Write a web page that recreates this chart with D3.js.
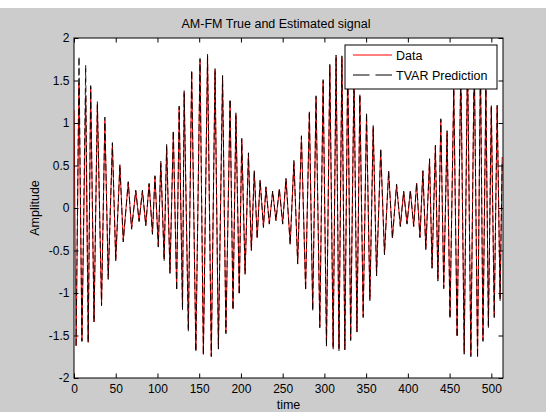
<!DOCTYPE html>
<html>
<head>
<meta charset="utf-8">
<script src="https://cdn.jsdelivr.net/npm/d3@7"></script>
<style>
  body { margin: 0; background: #fff; }
  text { font-family: "Liberation Sans", Arial, sans-serif; fill: #000; }
  .line { fill: none; }
</style>
</head>
<body>
<div id="chart"></div>
<script>
// sample index of each turning point (peak / trough)
var turnT = [0, 2.5, 6, 9.5, 14, 17, 20, 24, 28, 33,
  37, 41, 46, 50, 55, 59, 65, 69, 74, 78,
  82, 86, 90, 94, 97, 101, 104, 108, 111, 115,
  119, 123, 126, 130, 132, 137, 141, 146, 151, 155,
  160, 164.5, 169, 173, 178, 182, 187, 190.5, 194, 198,
  201, 205, 209, 212.5, 216, 219.5, 223, 227, 230, 234,
  238, 242, 246, 250, 254, 259, 263.5, 268, 272.5, 277.5,
  282, 286, 290, 294.5, 298.5, 302.5, 306.5, 310.5, 314, 317.5,
  321, 324.5, 328, 331.5, 335.5, 339, 342.5, 346.5, 350.5, 354.5,
  358.5, 362.5, 367.5, 372, 377, 381.5, 386.5, 391, 395, 399,
  403, 407, 410.5, 414.5, 418, 421.5, 426, 429, 433, 436,
  439.5, 443, 447, 450.5, 455, 459, 463.5, 467.5, 471.5, 475.5,
  479.5, 483.5, 487, 490, 493.5, 496.5, 500, 503.5, 507, 510.5,
  513];

// true signal
var dataV = [1.15, -1.62, 1.47, -1.56, 1.32, -1.58, 1.42, -1.34, 1.22, -1.14,
  1.03, -0.82, 0.75, -0.61, 0.50, -0.38, 0.30, -0.24, 0.20, -0.15,
  0.20, -0.20, 0.28, -0.30, 0.37, -0.45, 0.53, -0.60, 0.73, -0.76,
  0.89, -0.95, 1.18, -1.18, 1.36, -1.43, 1.60, -1.67, 1.74, -1.72,
  1.79, -1.74, 1.62, -1.64, 1.54, -1.46, 1.26, -1.18, 1.10, -1.00,
  0.80, -0.77, 0.63, -0.50, 0.43, -0.35, 0.32, -0.22, 0.24, -0.18,
  0.19, -0.14, 0.22, -0.18, 0.34, -0.42, 0.54, -0.64, 0.83, -0.95,
  1.12, -1.19, 1.30, -1.39, 1.49, -1.62, 1.67, -1.64, 1.78, -1.66,
  1.77, -1.66, 1.70, -1.54, 1.58, -1.45, 1.32, -1.27, 1.10, -1.07,
  0.95, -0.78, 0.68, -0.54, 0.43, -0.35, 0.27, -0.21, 0.19, -0.18,
  0.20, -0.21, 0.29, -0.34, 0.43, -0.48, 0.56, -0.70, 0.72, -0.84,
  1.03, -0.93, 0.89, -1.28, 1.39, -1.50, 1.67, -1.70, 1.79, -1.73,
  1.79, -1.75, 1.70, -1.55, 1.39, -1.39, 1.19, -1.27, 1.19, -1.07,
  0.60];

// TVAR prediction (starts a couple of samples late)
var predV = [null, -1.62, 1.78, -1.57, 1.68, -1.58, 1.44, -1.34, 1.25, -1.15,
  1.07, -0.84, 0.77, -0.62, 0.51, -0.40, 0.31, -0.25, 0.21, -0.16,
  0.21, -0.21, 0.29, -0.31, 0.38, -0.46, 0.55, -0.62, 0.75, -0.77,
  0.91, -0.97, 1.20, -1.20, 1.38, -1.45, 1.62, -1.69, 1.76, -1.73,
  1.81, -1.75, 1.64, -1.66, 1.56, -1.48, 1.28, -1.20, 1.12, -1.02,
  0.82, -0.78, 0.65, -0.50, 0.44, -0.36, 0.33, -0.23, 0.25, -0.19,
  0.20, -0.15, 0.23, -0.19, 0.35, -0.43, 0.56, -0.66, 0.85, -0.97,
  1.14, -1.21, 1.32, -1.41, 1.51, -1.63, 1.69, -1.66, 1.80, -1.68,
  1.79, -1.67, 1.72, -1.56, 1.60, -1.46, 1.34, -1.29, 1.12, -1.09,
  0.97, -0.80, 0.70, -0.55, 0.44, -0.36, 0.28, -0.22, 0.20, -0.19,
  0.21, -0.22, 0.30, -0.35, 0.44, -0.49, 0.58, -0.71, 0.74, -0.86,
  1.05, -0.95, 0.91, -1.30, 1.41, -1.52, 1.69, -1.72, 1.80, -1.75,
  1.81, -1.76, 1.72, -1.57, 1.41, -1.41, 1.21, -1.29, 1.21, -1.09,
  0.55];

var xTicks = [0, 50, 100, 150, 200, 250, 300, 350, 400, 450, 500];
var yTicks = [-2, -1.5, -1, -0.5, 0, 0.5, 1, 1.5, 2];
var seriesNames = ["Data", "TVAR Prediction"];
var seriesColors = ["#ff0000", "#000000"];
var seriesDash = ["none", "16.5,6"];

document.addEventListener('DOMContentLoaded', function() {
  drawChart();
});

function drawChart(){
    var W = 546, H = 412;
    var margin = {top: 38, right: 43, bottom: 34, left: 74},
    width = W - margin.left - margin.right,
    height = H - margin.top - margin.bottom;

    var x = d3.scaleLinear().domain([0, 514]).range([0, width]);
    var y = d3.scaleLinear().domain([-2, 2]).range([height, 0]);

    var rows = turnT.map(function(t, i) {
      return {t: t, data: dataV[i], pred: predV[i]};
    });

    var root = d3.select("#chart")
        .append("svg")
        .attr("width", W)
        .attr("height", H);

    // figure background (gray, white strip at top)
    root.append("rect").attr("width", W).attr("height", H).attr("fill", "#fff");
    root.append("rect").attr("y", 8).attr("width", W).attr("height", H - 8).attr("fill", "#cccccc");

    var svg = root.append("g")
        .attr("transform", "translate(" + margin.left + "," + margin.top + ")");

    svg.append("rect")
      .attr("width", width)
      .attr("height", height)
      .attr("fill", "#fff");

    svg.append("clipPath").attr("id", "clip")
      .append("rect").attr("width", width).attr("height", height);

    var dataLine = d3.line()
      .x(function(d) { return x(d.t); })
      .y(function(d) { return y(d.data); });

    var predLine = d3.line()
      .defined(function(d) { return d.pred != null; })
      .x(function(d) { return x(d.t); })
      .y(function(d) { return y(d.pred); });

    var plot = svg.append("g").attr("clip-path", "url(#clip)");

    plot.append("path")
      .datum(rows)
      .attr("class", "line")
      .style("stroke", seriesColors[0])
      .style("stroke-width", 1)
      .attr("d", dataLine);

    plot.append("path")
      .datum(rows)
      .attr("class", "line")
      .style("stroke", seriesColors[1])
      .style("stroke-width", 0.9)
      .style("stroke-dasharray", "7,3")
      .attr("d", predLine);

    // Add the X Axis (ticks point inward)
    svg.append("g")
      .attr("transform", "translate(0," + height + ")")
      .call(d3.axisBottom(x).tickValues(xTicks).tickSizeInner(-4.5).tickSizeOuter(0).tickPadding(6));

    svg.append("g")
      .call(d3.axisTop(x).tickValues(xTicks).tickSizeInner(-4.5).tickSizeOuter(0).tickFormat(""));

    // Add the Y Axis
    svg.append("g")
      .call(d3.axisLeft(y).tickValues(yTicks).tickSizeInner(-4.5).tickSizeOuter(0).tickPadding(4.5)
        .tickFormat(function(d) { return String(d); }));

    svg.append("g")
      .attr("transform", "translate(" + width + ",0)")
      .call(d3.axisRight(y).tickValues(yTicks).tickSizeInner(-4.5).tickSizeOuter(0).tickFormat(""));

    svg.selectAll(".domain").remove();
    svg.selectAll(".tick line").attr("stroke", "#000");
    svg.selectAll(".tick text")
      .style("font-family", "'Liberation Sans', Arial, sans-serif")
      .style("font-size", "12px")
      .attr("fill", "#000");

    // box
    svg.append("rect")
      .attr("width", width)
      .attr("height", height)
      .attr("fill", "none")
      .attr("stroke", "#000")
      .attr("stroke-width", 1);

    // chart title
    root.append("text")
      .attr("x", 276)
      .attr("y", 28)
      .style("text-anchor", "middle")
      .style("font-size", "12.5px")
      .text("AM-FM True and Estimated signal");

    root.append("text")      // text label for the x-axis
      .attr("x", margin.left + width / 2)
      .attr("y", 409)
      .style("text-anchor", "middle")
      .style("font-size", "12.5px")
      .text("time");

    root.append("text")      // text label for the y-axis
      .attr("transform", "translate(39," + (margin.top + height / 2) + ") rotate(-90)")
      .style("text-anchor", "middle")
      .style("font-size", "12.5px")
      .text("Amplitude");

    // legend
    var lg = root.append("g").attr("transform", "translate(345,45)");
    lg.append("rect")
      .attr("width", 152)
      .attr("height", 44)
      .attr("fill", "#fff")
      .attr("stroke", "#000")
      .attr("stroke-width", 1);

    var item = lg.selectAll("g.item")
      .data(seriesNames)
      .enter().append("g")
      .attr("class", "item")
      .attr("transform", function(d, i) { return "translate(0," + (10 + i * 20) + ")"; });

    item.append("line")
      .attr("x1", 8).attr("x2", 47).attr("y1", 0).attr("y2", 0)
      .style("stroke", function(d, i) { return seriesColors[i]; })
      .style("stroke-width", 1.2)
      .style("stroke-dasharray", function(d, i) { return seriesDash[i]; });

    item.append("text")
      .attr("x", 51)
      .attr("y", 5)
      .style("font-size", "12.5px")
      .text(function(d) { return d; });
}
</script>
</body>
</html>
